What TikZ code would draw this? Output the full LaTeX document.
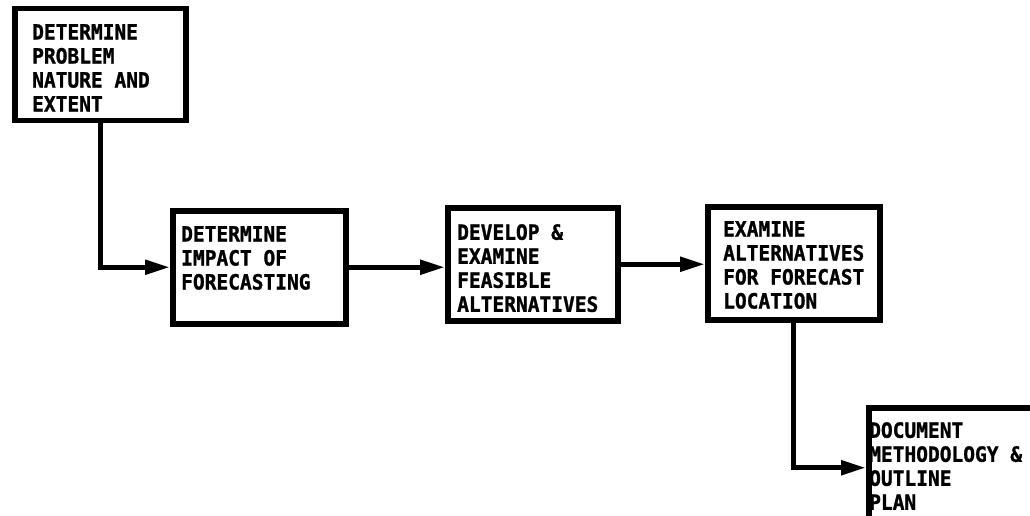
\documentclass[tikz,border=0pt]{standalone}
\usepackage{fontspec}
\newfontfamily\boxfont[FakeBold=1.2,FakeStretch=0.93]{DejaVu Sans Mono Bold}
\usetikzlibrary{positioning,arrows.meta,calc}

\begin{document}
\begin{tikzpicture}[x=1pt,y=-1pt,
      box/.style={rectangle,draw,line width=5.5pt,anchor=north west,inner sep=0pt},
      lbl/.style={anchor=north west,inner sep=0pt,align=left,font=\boxfont\fontsize{21}{24}\selectfont},
      arr/.style={line width=5pt,-{Triangle[length=25pt,width=14pt]}}
    ]
    \useasboundingbox (0,0) rectangle (1030,516);
    \clip (0,0) rectangle (1030,516);

    \node[box,minimum width=171pt,minimum height=112pt] (prob) at (12,6) {};
    \node[box,minimum width=173pt,minimum height=113pt] (impact) at (170,208) {};
    \node[box,minimum width=170pt,minimum height=113pt] (devel) at (445,205) {};
    \node[box,minimum width=172pt,minimum height=113pt] (loc) at (705,204) {};
    \node[box,minimum width=200pt,minimum height=120pt] (doc) at (866,405) {};

    \node[lbl] (probtxt) at ([shift={(20,18)}]prob.north west) {DETERMINE\\PROBLEM\\NATURE AND\\EXTENT};
    \node[lbl] (impacttxt) at ([shift={(11,18)}]impact.north west) {DETERMINE\\IMPACT OF\\FORECASTING};
    \node[lbl] (develtxt) at ([shift={(12,19)}]devel.north west) {DEVELOP \&\\EXAMINE\\FEASIBLE\\ALTERNATIVES};
    \node[lbl] (loctxt) at ([shift={(18,17)}]loc.north west) {EXAMINE\\ALTERNATIVES\\FOR FORECAST\\LOCATION};
    \node[lbl] (doctxt) at ([shift={(3,17)}]doc.north west) {DOCUMENT\\METHODOLOGY \&\\OUTLINE\\PLAN};

    \draw[arr] (prob.south) |- (impact.west);
    \draw[arr] (impact.east) -- (impact.east -| devel.west);
    \draw[arr] (devel.east) -- (devel.east -| loc.west);
    \draw[arr] (loc.south) |- (doc.west);

  \end{tikzpicture}
\end{document}
